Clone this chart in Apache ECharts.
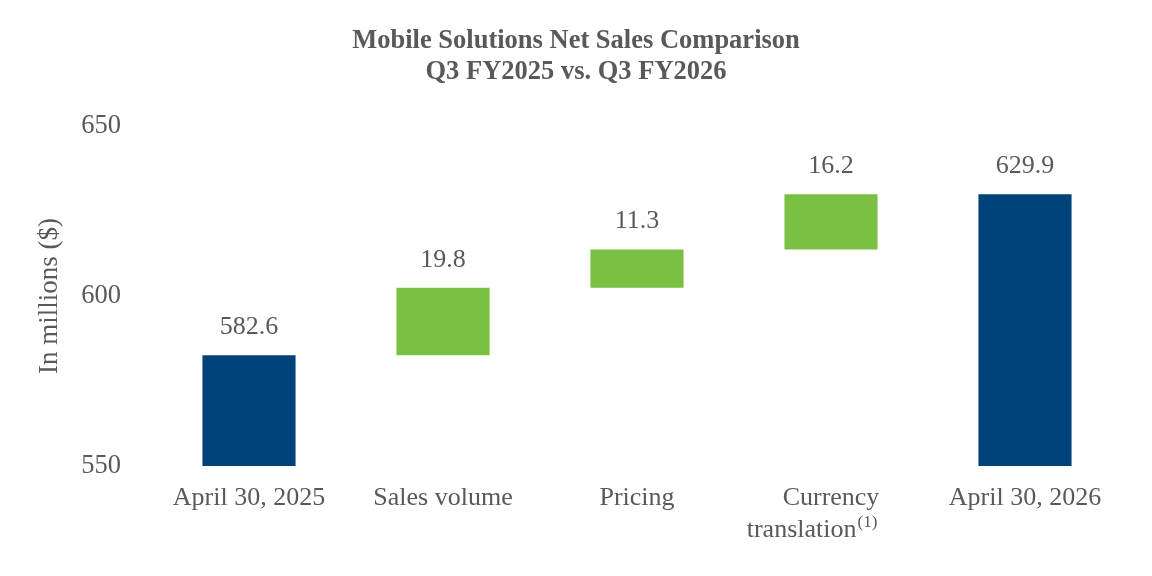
<!DOCTYPE html>
<html>
<head>
<meta charset="utf-8">
<script src="https://cdn.jsdelivr.net/npm/echarts@6/dist/echarts.min.js"></script>
<style>
  html, body { margin: 0; padding: 0; background: #fff; }
  #chart { width: 1152px; height: 576px; }
</style>
</head>
<body>
<div id="chart"></div>
<script>
// categories and waterfall pieces
const categories = ['April 30, 2025', 'Sales volume', 'Pricing', 'Currency translation', 'April 30, 2026'];
const baseValues = [0, 582.6, 602.4, 613.7, 0];
const deltaValues = [582.6, 19.8, 11.3, 16.2, 629.9];
const barKinds = ['total', 'up', 'up', 'up', 'total'];
const yTicks = [550, 600, 650];

const navy = '#00427A';
const green = '#7AC143';
const textGray = '#595959';
const font = '"Liberation Serif", "Times New Roman", serif';

const chart = echarts.init(document.getElementById('chart'));

chart.setOption({
  backgroundColor: '#fff',
  animation: false,
  textStyle: { fontFamily: font },
  title: {
    text: 'Mobile Solutions Net Sales Comparison\nQ3 FY2025 vs. Q3 FY2026',
    left: 'center',
    top: 21,
    textStyle: { color: textGray, fontFamily: font, fontWeight: 'bold', fontSize: 26.5, lineHeight: 31 },
  },
  grid: { left: 152, right: 30, top: 126, bottom: 110 },
  xAxis: {
    type: 'category',
    data: categories,
    axisLine: { show: false },
    axisTick: { show: false },
    axisLabel: {
      color: textGray,
      fontFamily: font,
      fontSize: 26,
      margin: 16,
      lineHeight: 32,
      interval: 0,
      // currency label: second line sits a little left of the first, as in the slide
      formatter: v => v === 'Currency translation' ? 'Currency\ntranslation{sup|(1)}{pad|}' : v,
      rich: {
        sup: { fontSize: 17, color: textGray, fontFamily: font, verticalAlign: 'top', padding: [0, 0, 8, 1] },
        pad: { width: 38 },
      },
    },
  },
  yAxis: {
    type: 'value',
    min: yTicks[0],
    max: yTicks[yTicks.length - 1],
    interval: 50,
    name: 'In millions ($)',
    nameLocation: 'middle',
    nameGap: 89,
    nameTextStyle: { color: textGray, fontFamily: font, fontSize: 27 },
    axisLine: { show: false },
    axisTick: { show: false },
    splitLine: { show: false },
    axisLabel: { color: textGray, fontFamily: font, fontSize: 26.5, margin: 31 },
  },
  series: [
    {
      type: 'bar',
      stack: 'wf',
      data: baseValues,
      itemStyle: { color: 'transparent' },
      silent: true,
      barWidth: '48%',
    },
    {
      type: 'bar',
      stack: 'wf',
      barWidth: '48%',
      data: deltaValues.map((v, i) => ({
        value: v,
        itemStyle: { color: barKinds[i] === 'total' ? navy : green },
      })),
      label: {
        show: true,
        position: 'top',
        distance: 15,
        color: textGray,
        fontFamily: font,
        fontSize: 26,
        formatter: p => p.value.toFixed(1),
      },
    },
  ],
});
</script>
</body>
</html>
